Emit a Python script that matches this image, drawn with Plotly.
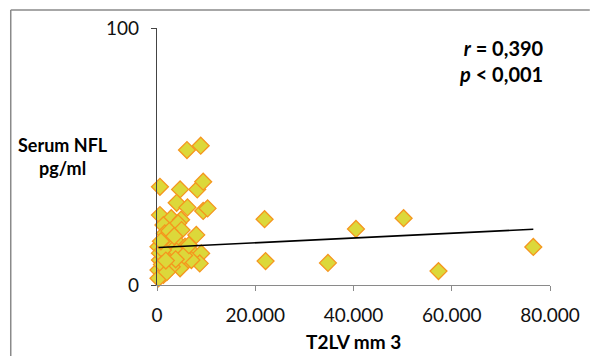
import plotly.graph_objects as go

# T2LV (mm3) and serum NFL (pg/ml)
t2lv = [21900, 22100, 34800, 40500, 50200, 57300, 76600,
        6100, 8900, 600, 4700, 8200, 9400, 4000, 6200, 9400, 10300,
        600, 2900, 4900, 4300, 1300, 1600, 8000, 5000, 4000, 2000,
        300, 7400, 9000, 6000, 8700, 4700, 600, 300, 1300, 300,
        3000, 2300, 600, 3200, 5700, 7000, 1600, 4000, 1200, 2500,
        3500, 1000, 2000, 5500, 6500, 800, 3800, 1800]
nfl = [25.6, 9.3, 8.6, 21.8, 26.0, 5.4, 14.8,
       52.5, 54.2, 38.2, 37.2, 37.2, 40.2, 32.0, 30.2, 28.8, 29.8,
       27.2, 26.0, 25.4, 24.0, 23.3, 20.1, 19.5, 21.4, 16.8, 16.2,
       14.9, 12.3, 12.3, 9.1, 8.4, 6.5, 9.7, 5.8, 3.9, 2.6,
       7.1, 11.0, 12.4, 13.6, 14.9, 9.7, 18.3, 13.0, 13.6, 21.0,
       19.0, 8.0, 5.0, 11.5, 15.5, 17.0, 10.0, 9.5]

# trend line endpoints
trend_x = [300, 76600]
trend_y = [14.6, 21.7]

x_tickvals = [0, 20000, 40000, 60000, 80000]
x_ticktext = ["0", "20.000", "40.000", "60.000", "80.000"]
y_tickvals = [0, 100]
y_ticktext = ["0", "100"]

FONT = "Lato, 'Open Sans', sans-serif"

fig = go.Figure()
fig.add_trace(go.Scatter(
    x=t2lv, y=nfl, mode="markers",
    marker=dict(symbol="diamond", size=13, color="#DCD83A",
                line=dict(color="#F5961E", width=1.3)),
    showlegend=False, cliponaxis=False, hoverinfo="skip"))
fig.add_trace(go.Scatter(
    x=trend_x, y=trend_y, mode="lines",
    line=dict(color="black", width=1.6), showlegend=False,
    hoverinfo="skip"))

# plot area at x 157..552, y 28..285 (page margin removed below)
fig.update_layout(
    width=592, height=356,
    margin=dict(l=157, r=40, t=28, b=71),
    paper_bgcolor="white", plot_bgcolor="white",
    font=dict(family=FONT, color="black", size=19),
    xaxis=dict(range=[0, 80000], tickvals=x_tickvals, ticktext=x_ticktext,
               showgrid=False, zeroline=False, showline=True,
               linecolor="#8a8a8a", linewidth=1.2,
               ticks="outside", ticklen=5, tickcolor="#8a8a8a",
               ticklabelstandoff=8,
               tickfont=dict(size=19, color="#111111")),
    yaxis=dict(range=[0, 100], tickvals=y_tickvals, ticktext=y_ticktext,
               showgrid=False, zeroline=False, showline=True,
               linecolor="#444444", linewidth=1.2,
               ticks="outside", ticklen=5, tickcolor="#444444",
               ticklabelstandoff=8,
               tickfont=dict(size=19, color="#111111")),
)

PX = lambda X: (X - 157) / 395
PY = lambda Y: (285 - Y) / 257

# outer frame (left and top edges)
fig.add_shape(type="line", xref="paper", yref="paper", layer="above",
              x0=PX(10), x1=PX(10), y0=PY(10), y1=PY(356),
              line=dict(color="#8a8a8a", width=1.5))
fig.add_shape(type="line", xref="paper", yref="paper", layer="above",
              x0=PX(10), x1=PX(592), y0=PY(10), y1=PY(10),
              line=dict(color="#8a8a8a", width=1.5))

fig.add_annotation(xref="paper", yref="paper", x=PX(63), y=PY(156),
                   xanchor="center", yanchor="middle", showarrow=False,
                   text="<b>Serum NFL<br>pg/ml</b>", align="center",
                   font=dict(size=18, family=FONT))
fig.add_annotation(xref="paper", yref="paper", x=PX(354), y=PY(341),
                   xanchor="center", yanchor="middle", showarrow=False,
                   text="<b>T2LV mm 3</b>", font=dict(size=19, family=FONT))
fig.add_annotation(xref="paper", yref="paper", x=PX(548), y=PY(61),
                   xanchor="right", yanchor="middle", showarrow=False,
                   text="<b><i>r</i> = 0,390</b><br><b><i>p</i> < 0,001</b>",
                   align="right", font=dict(size=20, family=FONT))

fig.write_html(
    "out.html",
    config={"displayModeBar": False},
    post_script="document.body.style.margin='0';"
                "document.body.style.overflow='hidden';",
)
